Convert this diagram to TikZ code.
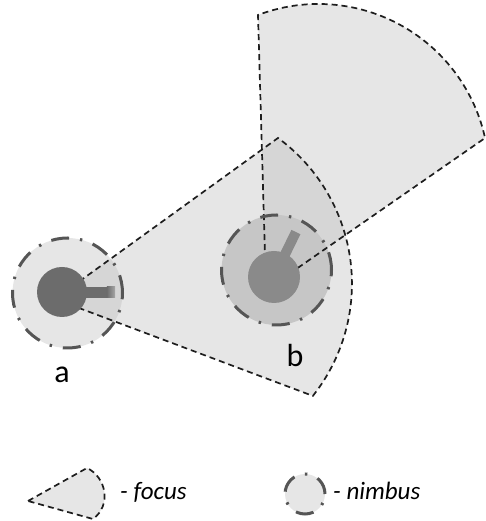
\documentclass[tikz,border=0pt]{standalone}
\usepackage{fontspec}
\setmainfont{Carlito}
\definecolor{focusfill}{RGB}{186,186,186}
\definecolor{nimbusA}{RGB}{230,230,230}
\definecolor{nimbusB}{RGB}{198,198,198}
\definecolor{nimbusline}{RGB}{85,85,85}
\definecolor{focusline}{RGB}{30,30,30}
\definecolor{bodyA}{RGB}{108,108,108}
\definecolor{bodyB}{RGB}{138,138,138}
\begin{document}
\begin{tikzpicture}[x=1pt,y=1pt,
  focusarea/.style={fill=focusfill,fill opacity=0.36},
  focusborder/.style={draw=focusline,line width=1.7pt,dash pattern=on 6pt off 4pt},
  nimbusborder/.style={draw=nimbusline,line width=3pt,dash pattern=on 18pt off 11pt on 2.4pt off 11pt},
  lbl/.style={font=\fontsize{32}{38}\selectfont,inner sep=0pt,anchor=base},
  legtext/.style={font=\fontsize{25}{30}\selectfont\itshape,inner sep=0pt,anchor=base west}]
\useasboundingbox (0,0) rectangle (485,521);
% named points
\coordinate (aC) at (62,229);
\coordinate (aN) at (67.5,228);
\coordinate (aApex) at (55,222);
\coordinate (aTop) at (278,383);
\coordinate (aBot) at (313,125);
\coordinate (bC) at (274,244);
\coordinate (bN) at (276.5,251);
\coordinate (bApex) at (266,231);
\coordinate (bLeft) at (258,506);
\coordinate (bRight) at (485,383);
% fills
\fill[nimbusA] (aN) circle[radius=55];
\fill[focusarea] (aApex) -- (aTop) arc[start angle=53.8,end angle=-38.4,radius=180.6] -- cycle;
\fill[focusarea] (bApex) -- (bLeft) arc[start angle=110.7,end angle=12.4,radius=170.7] -- cycle;
\fill[nimbusB] (bN) circle[radius=55];
% focus borders
\draw[focusborder] (aApex) -- (aTop) arc[start angle=53.8,end angle=-38.4,radius=180.6] -- cycle;
\draw[focusborder] (bApex) -- (bLeft) arc[start angle=110.7,end angle=12.4,radius=170.7] -- cycle;
% nimbus borders
\draw[nimbusborder] (aN) circle[radius=55];
\draw[nimbusborder] (bN) circle[radius=55];
% bodies
\fill[bodyA] (62,223) rectangle (107,234);
\shade[left color=bodyA,right color=bodyA!60!white] (106.8,223) rectangle (115,234);
\fill[bodyA] (aC) circle[radius=25];
\fill[bodyB,rotate around={64:(bC)}] (274,239) rectangle (324,249);
\fill[bodyB] (bC) circle[radius=26];
% labels
\node[lbl] (la) at (62,138) {a};
\node[lbl] (lb) at (295,154) {b};
% legend
\coordinate (lApex) at (28,20);
\coordinate (lTop) at (87,53);
\coordinate (lBot) at (93,2);
\fill[nimbusA] (lApex) -- (lTop) .. controls (106,44) and (112,16) .. (lBot) -- cycle;
\draw[focusborder] (lApex) -- (lTop) .. controls (106,44) and (112,16) .. (lBot) -- cycle;
\node[legtext] (tf) at (120,21) {- focus};
\coordinate (lN) at (305,27);
\fill[nimbusA] (lN) circle[radius=20];
\draw[nimbusborder] (lN) circle[radius=20];
\node[legtext] (tn) at (333,21) {- nimbus};
\end{tikzpicture}
\end{document}
